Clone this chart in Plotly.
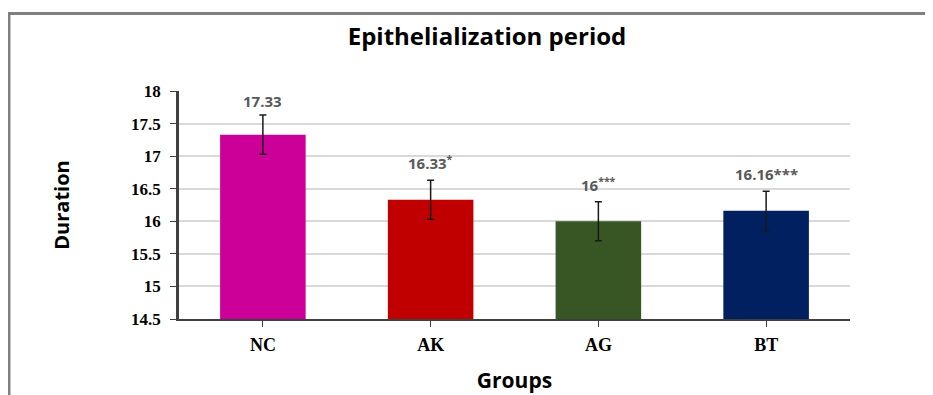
import plotly.graph_objects as go

groups = ["NC", "AK", "AG", "BT"]
duration = [17.33, 16.33, 16.0, 16.16]
errors = [0.3, 0.3, 0.3, 0.3]
bar_labels = ["17.33", "16.33<sup>*</sup>", "16<sup>***</sup>", "16.16***"]
colors = ["#CC0099", "#C00000", "#375623", "#002060"]
y_ticks = [14.5, 15, 15.5, 16, 16.5, 17, 17.5, 18]

fig = go.Figure()
fig.add_trace(go.Bar(
    x=groups, y=duration, base=0,
    marker=dict(color=colors, line=dict(width=0)),
    width=0.51,
    error_y=dict(type="data", array=errors, visible=True, color="#1a1a1a",
                 thickness=1.5, width=3.5),
    showlegend=False,
))

for g, v, e, lab in zip(groups, duration, errors, bar_labels):
    shift = 2 if "*" not in lab else 5
    fig.add_annotation(x=g, y=v + e, text=lab, showarrow=False,
                       yanchor="bottom", yshift=shift,
                       font=dict(family="Open Sans", size=15, color="#595959",
                                 weight="bold"))

fig.update_layout(
    width=925, height=387,
    margin=dict(l=171, r=83, t=83, b=76),
    paper_bgcolor="white", plot_bgcolor="white",
    title=dict(text="Epithelialization period", x=0.459, xanchor="center",
               xref="paper", y=0.925, yanchor="middle",
               font=dict(family="Open Sans", size=24, color="#000000",
                         weight="bold")),
    bargap=0.49,
    xaxis=dict(
        automargin=False,
        showline=True, linecolor="#404040", linewidth=2,
        ticks="outside", ticklen=6, tickcolor="#404040",
        ticklabelstandoff=2,
        tickfont=dict(family="Liberation Serif", size=18, color="#000000",
                      weight="bold"),
        title=dict(text="Groups", standoff=20,
                   font=dict(family="Open Sans", size=21, color="#000000",
                             weight="bold")),
        showgrid=False,
    ),
    yaxis=dict(
        automargin=False,
        range=[14.5, 18], tickvals=y_ticks,
        ticktext=[("%g" % t) for t in y_ticks],
        showline=True, linecolor="#404040", linewidth=2.5,
        ticks="outside", ticklen=6, tickcolor="#404040",
        ticklabelstandoff=6,
        gridcolor="#D9D9D9", gridwidth=1.5,
        tickfont=dict(family="Liberation Serif", size=17, color="#000000",
                      weight="bold"),
        title=dict(text="Duration", standoff=57,
                   font=dict(family="Open Sans", size=20, color="#000000",
                             weight="bold")),
        zeroline=False,
    ),
)

# outer frame
fig.add_shape(type="rect", xref="paper", yref="paper",
              x0=-0.2534, x1=1.3, y0=-0.6, y1=1.340,
              line=dict(color="#7f7f7f", width=3), fillcolor="rgba(0,0,0,0)")

fig.write_html("out.html")
